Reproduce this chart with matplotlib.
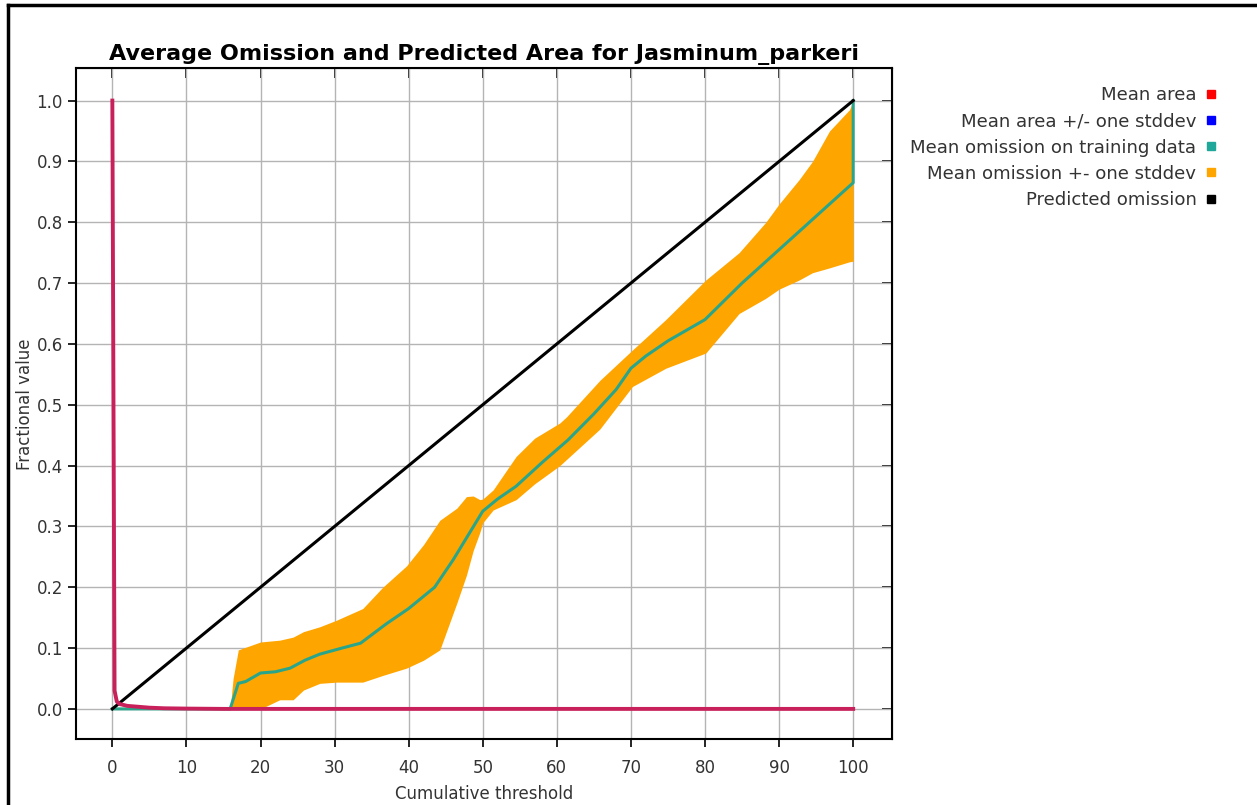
import numpy as np
import matplotlib
matplotlib.use("Agg")
import matplotlib.pyplot as plt
from matplotlib.lines import Line2D

plt.rcParams['font.family'] = ['DejaVu Sans']

# values
# mean area (red, overlaid by its +/- stddev in blue)
area_x = [0, 0.3, 0.6, 1, 2, 3, 5, 7, 10, 15, 20, 30, 50, 70, 100]
area_y = [1.0, 0.03, 0.012, 0.008, 0.005, 0.004, 0.002, 0.001, 0.0005, 0.0, 0.0, 0.0, 0.0, 0.0, 0.0]

# mean omission on training data
om_x = [0, 10, 15.9, 17, 18, 20, 22, 24, 26, 28, 31, 33.5, 37, 40, 43.5,
        46, 48, 50, 52, 54.5, 58, 61.5, 65, 68, 70, 72, 75, 80, 85, 90, 95, 100, 100]
om_y = [0, 0, 0, 0.042, 0.045, 0.059, 0.061, 0.067, 0.08, 0.09, 0.1, 0.108, 0.14, 0.165, 0.2,
        0.245, 0.285, 0.325, 0.345, 0.366, 0.405, 0.442, 0.485, 0.525, 0.56, 0.58, 0.605, 0.64, 0.70, 0.755, 0.81, 0.865, 1.0]

# mean omission +- one stddev band
band_x = [15.9, 16.3, 17, 20, 22.6, 24.4, 25.8, 28, 30.3, 33.8, 36.5, 39.7, 42, 44.2,
          46.5, 47.8, 48.7, 49.6, 50, 51.4, 54.5, 57, 60.4, 61.3, 65.8, 70.2, 74.7,
          80.1, 84.6, 88.2, 90, 92.7, 94.5, 96.8, 99.5, 100]
band_lo = [0, 0, 0, 0, 0.015, 0.015, 0.031, 0.042, 0.044, 0.044, 0.055, 0.067, 0.08, 0.097,
           0.174, 0.22, 0.26, 0.29, 0.306, 0.327, 0.344, 0.37, 0.40, 0.41, 0.46, 0.53, 0.56,
           0.585, 0.65, 0.675, 0.69, 0.705, 0.717, 0.725, 0.735, 0.736]
band_hi = [0, 0.05, 0.097, 0.11, 0.113, 0.118, 0.127, 0.135, 0.146, 0.165, 0.2, 0.235, 0.27, 0.31,
           0.33, 0.349, 0.35, 0.344, 0.345, 0.36, 0.415, 0.445, 0.47, 0.48, 0.54, 0.59, 0.64,
           0.705, 0.75, 0.80, 0.83, 0.87, 0.90, 0.95, 0.985, 1.0]

pred_x = [0, 100]
pred_y = [0, 1]

xticks = list(range(0, 101, 10))
yticks = [round(0.1 * i, 1) for i in range(11)]

legend_labels = ["Mean area", "Mean area +/- one stddev", "Mean omission on training data",
                 "Mean omission +- one stddev", "Predicted omission"]
legend_colors = ["#ff0000", "#0000ff", "#1fa89a", "#ffa500", "#000000"]

fig = plt.figure(figsize=(12.57, 8.05), dpi=100)
ax = fig.add_axes([0.0605, 0.0816, 0.6489, 0.8335])

ax.fill_between(band_x, band_lo, band_hi, color="#ffa500", linewidth=0, zorder=2)
ax.plot(om_x, om_y, color="#2aa58a", linewidth=2.2, zorder=3)
ax.plot(pred_x, pred_y, color="black", linewidth=2.2, zorder=4)
ax.plot(area_x, area_y, color="#c8205a", linewidth=2.8, zorder=5)

ax.set_xlim(-4.9, 105.2)
ax.set_ylim(-0.05, 1.053)
ax.set_xticks(xticks)
ax.set_yticks(yticks)
ax.set_yticklabels(["%.1f" % v for v in yticks])
ax.grid(True, color="#b4b4b4", linewidth=1)
ax.set_axisbelow(True)
ax.tick_params(direction="out", length=6, width=1.2, labelsize=12, colors="black",
               labelcolor="#333333")
ax.tick_params(axis="x", pad=8)
for s in ax.spines.values():
    s.set_linewidth(1.5)

top = ax.secondary_xaxis("top")
top.set_xticks(xticks)
top.tick_params(direction="in", length=7, width=1.2, labelsize=0)
top.set_xticklabels([])
right = ax.secondary_yaxis("right")
right.set_yticks(yticks)
right.tick_params(direction="in", length=7, width=1.2)
right.set_yticklabels([])

ax.set_title("Average Omission and Predicted Area for Jasminum_parkeri",
             fontsize=16, fontweight="bold", pad=6)
ax.set_xlabel("Cumulative threshold", fontsize=12, labelpad=6, color="#333333")
ax.set_ylabel("Fractional value", fontsize=12, labelpad=2, color="#333333")

handles = [Line2D([], [], linestyle="", marker="s", markersize=6, color=c) for c in legend_colors]
fig.legend(handles, legend_labels, loc="upper right", bbox_to_anchor=(0.975, 0.902),
           frameon=False, markerfirst=False, fontsize=13.1, handletextpad=0.4,
           labelspacing=0.45, borderaxespad=0, handlelength=0.8, labelcolor="#333333")

# outer frame
fig.add_artist(Line2D([0.006, 1.0], [0.994, 0.994], transform=fig.transFigure, color="black", linewidth=2.5))
fig.add_artist(Line2D([0.006, 0.006], [0.0, 0.994], transform=fig.transFigure, color="black", linewidth=2.5))

fig.savefig("out.png", dpi=100)
